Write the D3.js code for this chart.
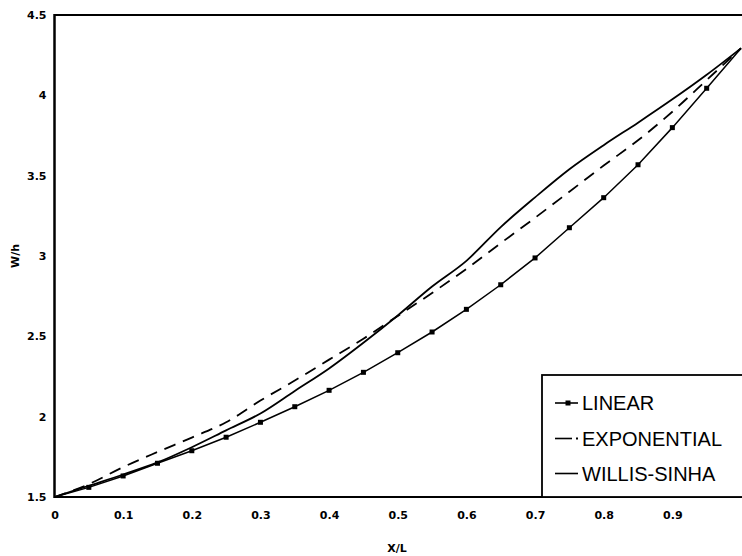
<!DOCTYPE html>
<html>
<head>
<meta charset="utf-8">
<script src="https://cdn.jsdelivr.net/npm/d3@7"></script>
<style>
  body { margin: 0; background: #fff; }
  #chart { width: 742px; height: 556px; }
  .tick-label { font-family: 'DejaVu Sans', sans-serif; font-weight: bold; font-size: 11px; }
  .legend-text { font-family: 'Liberation Sans', Arial, sans-serif; font-size: 20px; }
</style>
</head>
<body>
<div id="chart"></div>
<script>
// x positions (X/L)
const xValues = [0, 0.05, 0.1, 0.15, 0.2, 0.25, 0.3, 0.35, 0.4, 0.45, 0.5,
  0.55, 0.6, 0.65, 0.7, 0.75, 0.8, 0.85, 0.9, 0.95, 1.0];

// W/h per series
const linear = [1.5, 1.56, 1.631, 1.71, 1.788, 1.872, 1.965, 2.062, 2.164, 2.276, 2.398,
  2.527, 2.668, 2.821, 2.988, 3.176, 3.363, 3.568, 3.799, 4.044, 4.293];
const exponential = [1.5, 1.58, 1.686, 1.78, 1.87, 1.965, 2.1, 2.225, 2.355, 2.485, 2.627,
  2.77, 2.92, 3.08, 3.238, 3.4, 3.563, 3.72, 3.898, 4.095, 4.293];
const willisSinha = [1.5, 1.57, 1.64, 1.715, 1.81, 1.915, 2.02, 2.16, 2.3, 2.46, 2.63,
  2.81, 2.97, 3.18, 3.365, 3.54, 3.69, 3.83, 3.975, 4.128, 4.293];

const xTicks = [0, 0.1, 0.2, 0.3, 0.4, 0.5, 0.6, 0.7, 0.8, 0.9];
const yTicks = [1.5, 2, 2.5, 3, 3.5, 4, 4.5];
const legendLabels = ['LINEAR', 'EXPONENTIAL', 'WILLIS-SINHA'];

const width = 742;
const height = 556;

const svg = d3.select('#chart')
  .append('svg')
  .attr('width', width)
  .attr('height', height);

const xScale = d3.scaleLinear().domain([0, 1]).range([54.5, 741]);
const yScale = d3.scaleLinear().domain([1.5, 4.5]).range([497, 15]);

const toPoints = ys => ys.map((v, i) => [xValues[i], v]);

// frame: top border line
svg.append('line')
  .attr('x1', xScale(0)).attr('x2', width)
  .attr('y1', yScale(4.5)).attr('y2', yScale(4.5))
  .attr('stroke', '#000').attr('stroke-width', 2);

// axes
const xAxis = d3.axisBottom(xScale)
  .tickValues(xTicks)
  .tickSize(0)
  .tickPadding(14)
  .tickFormat(d => d === 0 ? '0' : d3.format('.1f')(d));

const yAxis = d3.axisLeft(yScale)
  .tickValues(yTicks)
  .tickSize(0)
  .tickPadding(8)
  .tickFormat(d => String(d));

const gx = svg.append('g')
  .attr('transform', `translate(0, ${yScale(1.5)})`)
  .call(xAxis);
gx.select('.domain').remove();
gx.selectAll('text').attr('class', 'tick-label').attr('fill', '#000');

const gy = svg.append('g')
  .attr('transform', `translate(${xScale(0)}, 0)`)
  .call(yAxis);
gy.select('.domain').remove();
gy.selectAll('text').attr('class', 'tick-label').attr('fill', '#000');

svg.append('line')
  .attr('x1', xScale(0)).attr('x2', width)
  .attr('y1', yScale(1.5)).attr('y2', yScale(1.5))
  .attr('stroke', '#000').attr('stroke-width', 2);
svg.append('line')
  .attr('x1', xScale(0)).attr('x2', xScale(0))
  .attr('y1', yScale(4.5) - 1).attr('y2', yScale(1.5) + 1)
  .attr('stroke', '#000').attr('stroke-width', 2.5);

// axis titles
svg.append('text')
  .attr('class', 'tick-label')
  .attr('x', 397).attr('y', 552)
  .attr('text-anchor', 'middle')
  .text('X/L');

svg.append('text')
  .attr('class', 'tick-label')
  .attr('transform', `translate(19, ${yScale(3)}) rotate(-90)`)
  .attr('text-anchor', 'middle')
  .text('W/h');

// curves
const smooth = d3.line()
  .x(d => xScale(d[0]))
  .y(d => yScale(d[1]))
  .curve(d3.curveMonotoneX);

const straight = d3.line()
  .x(d => xScale(d[0]))
  .y(d => yScale(d[1]));

svg.append('path')
  .datum(toPoints(exponential))
  .attr('d', smooth)
  .attr('fill', 'none')
  .attr('stroke', '#000')
  .attr('stroke-width', 1.8)
  .attr('stroke-dasharray', '12,8');

svg.append('path')
  .datum(toPoints(willisSinha))
  .attr('d', smooth)
  .attr('fill', 'none')
  .attr('stroke', '#000')
  .attr('stroke-width', 1.8);

svg.append('path')
  .datum(toPoints(linear))
  .attr('d', straight)
  .attr('fill', 'none')
  .attr('stroke', '#000')
  .attr('stroke-width', 1.5);

svg.selectAll('rect.marker')
  .data(toPoints(linear).slice(1, -1))
  .enter()
  .append('rect')
  .attr('class', 'marker')
  .attr('x', d => xScale(d[0]) - 2.5)
  .attr('y', d => yScale(d[1]) - 2.5)
  .attr('width', 5)
  .attr('height', 5)
  .attr('fill', '#000');

// legend
const legend = svg.append('g');
legend.append('rect')
  .attr('x', 542).attr('y', 375)
  .attr('width', 210).attr('height', yScale(1.5) - 375)
  .attr('fill', '#fff')
  .attr('stroke', '#000')
  .attr('stroke-width', 1.8);

const rowY = [403, 438.5, 473.5];
legendLabels.forEach((label, i) => {
  const y = rowY[i];
  if (i === 1) {
    legend.append('line')
      .attr('x1', 555).attr('x2', 572).attr('y1', y).attr('y2', y)
      .attr('stroke', '#000').attr('stroke-width', 1.6);
    legend.append('rect')
      .attr('x', 576).attr('y', y - 1)
      .attr('width', 2).attr('height', 2).attr('fill', '#000');
  } else {
    legend.append('line')
      .attr('x1', 555).attr('x2', 578).attr('y1', y).attr('y2', y)
      .attr('stroke', '#000').attr('stroke-width', 1.6);
  }
  if (i === 0) {
    legend.append('rect')
      .attr('x', 565.5).attr('y', y - 2.5)
      .attr('width', 5).attr('height', 5).attr('fill', '#000');
  }
  legend.append('text')
    .attr('class', 'legend-text')
    .attr('x', 582).attr('y', y + 7)
    .text(label);
});
</script>
</body>
</html>
